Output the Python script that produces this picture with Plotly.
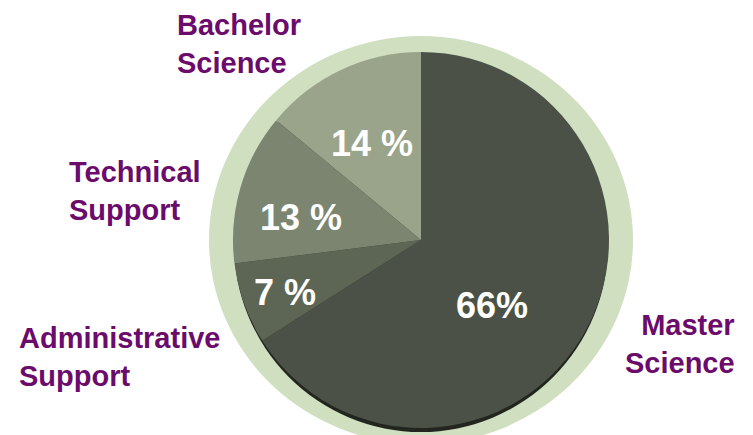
import plotly.graph_objects as go

labels = ["Master Science", "Administrative Support", "Technical Support", "Bachelor Science"]
values = [66, 7, 13, 14]
pct_text = ["66%", "7 %", "13 %", "14 %"]
colors = ["#4b5146", "#5d6554", "#7b8570", "#99a48b"]

OFF = 8  # page body margin
W, H = 753 - OFF, 435 - OFF
cx, cy, r = 421, 240, 188  # pie centre / radius in screen px


def px(x):
    return (x - OFF) / W


def py(y):
    return 1 - (y - OFF) / H


fig = go.Figure()
fig.add_trace(
    go.Pie(
        labels=labels,
        values=values,
        sort=False,
        direction="clockwise",
        rotation=0,
        textinfo="none",
        hoverinfo="label+percent",
        marker={"colors": colors, "line": {"width": 0}},
        domain={"x": [px(cx - r), px(cx + r)], "y": [py(cy + r), py(cy - r)]},
        showlegend=False,
    )
)

# light green rim and soft shadow behind the pie
fig.add_shape(type="circle", xref="paper", yref="paper", layer="below",
              x0=px(cx - 212), x1=px(cx + 212), y0=py(cy + 204), y1=py(cy - 204),
              fillcolor="#cfdfc0", line={"width": 0})
fig.add_shape(type="circle", xref="paper", yref="paper", layer="below",
              x0=px(cx - r + 1), x1=px(cx + r - 1), y0=py(cy + r + 4), y1=py(cy - r + 4),
              fillcolor="#23261f", line={"width": 0})

# percentage labels inside the slices
pct_pos = [(492, 305), (285, 292), (301, 217), (372, 143)]
for t, (x, y) in zip(pct_text, pct_pos):
    fig.add_annotation(x=px(x), y=py(y), xref="paper", yref="paper", text=t,
                       showarrow=False, xanchor="center", yanchor="middle",
                       font={"family": "Liberation Sans", "size": 36, "color": "white", "weight": "bold"})

# category labels
lab_pos = [(736, 344, "right"), (18, 357, "left"), (68, 191, "left"), (176, 44, "left")]
for name, (x, y, side) in zip(labels, lab_pos):
    fig.add_annotation(x=px(x), y=py(y), xref="paper", yref="paper",
                       text=name.replace(" ", "<br>"), showarrow=False,
                       xanchor=side, yanchor="middle", align=side, borderpad=0,
                       font={"family": "Liberation Sans", "size": 29, "color": "#6b0b6b", "weight": "bold"})

fig.update_layout(
    width=W, height=H,
    margin={"l": 0, "r": 0, "t": 0, "b": 0},
    paper_bgcolor="white",
    plot_bgcolor="white",
)
fig.write_html("out.html")
